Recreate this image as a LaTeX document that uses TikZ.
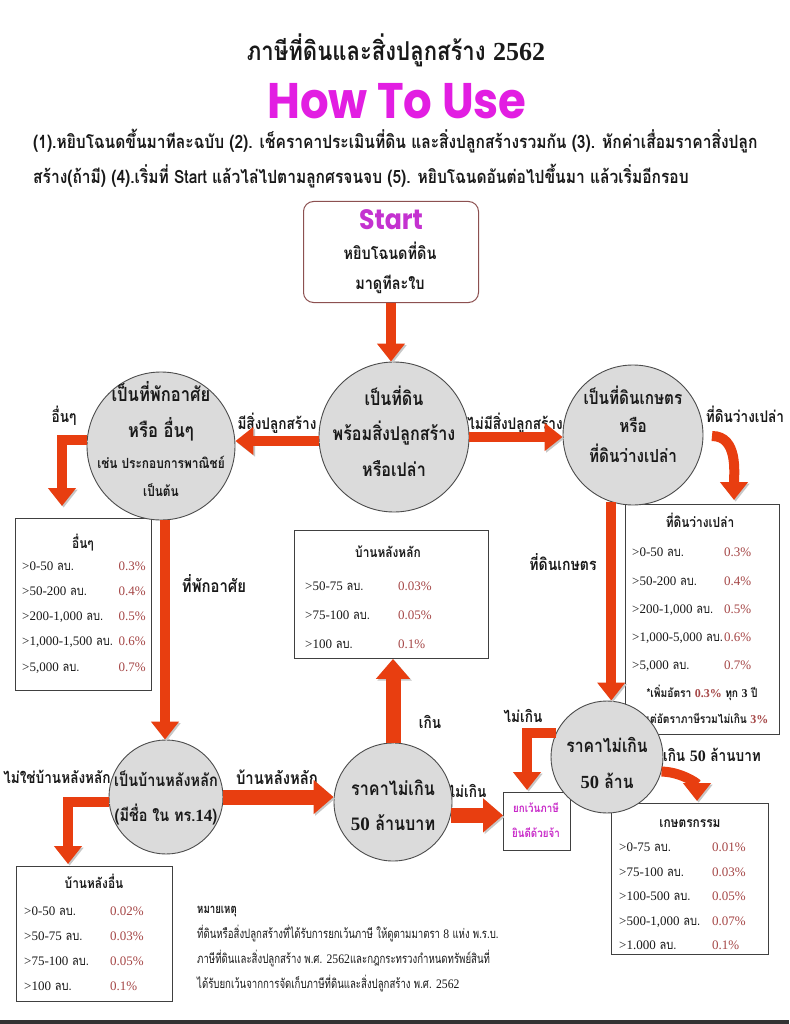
\documentclass[tikz,border=0pt]{standalone}
\usepackage{fontspec}
\usetikzlibrary{arrows.meta}
\setmainfont{Loma}[Script=Thai, FakeStretch=0.85]
\newfontfamily\cond{Loma}[Script=Thai, FakeStretch=0.74]
\newfontfamily\ser{Liberation Serif}
\newfontfamily\sercond{Liberation Serif}[FakeStretch=0.9]
\newfontfamily\howfont{Poppins}[FakeStretch=0.9]
\definecolor{arr}{RGB}{232,62,16}
\definecolor{pct}{RGB}{165,70,70}
\definecolor{howmag}{RGB}{226,30,226}
\definecolor{startmag}{RGB}{196,50,208}
\definecolor{exmag}{RGB}{200,40,200}
\definecolor{sbox}{RGB}{140,80,80}
\definecolor{ink}{RGB}{25,25,25}
\newcommand\pc[1]{{\ser\color{pct}#1}}
\newcommand\trowl[4]{\node[rowl] (#1) at (#2,#3) {#4};}
\newcommand\trowp[4]{\node[rowp] (#1) at (#2,#3) {\pc{#4}};}
\newcommand\trowr[4]{\node[rowr] (#1) at (#2,#3) {\pc{#4}};}
\newcommand\fs[1]{\fontsize{#1}{#1}\selectfont}
\tikzset{
  circ/.style={circle, draw=black!70, fill=black!14, line width=0.9pt, inner sep=0pt},
  tbox/.style={draw=black!75, line width=0.9pt, fill=white, inner sep=0pt, anchor=north west},
  bigarrow/.style={draw=arr, line width=10pt, -{Triangle[width=27pt,length=18pt]},
     preaction={draw=black!22, transform canvas={shift={(1.6pt,-1.6pt)}}}},
  fatarrow/.style={draw=arr, line width=15pt, -{Triangle[width=33pt,length=20pt]},
     preaction={draw=black!22, transform canvas={shift={(1.6pt,-1.6pt)}}}},
  lbl/.style={font=\bfseries\fs{16}, text=ink, inner sep=1pt},
  ctext/.style={font=\bfseries\fs{17}, text=ink, inner sep=0pt},
  ttitle/.style={font=\bfseries\fs{14}, text=ink, inner sep=0pt, anchor=base},
  rowl/.style={font=\fs{13}, text=ink, inner sep=0pt, anchor=base west},
  rowp/.style={font=\fs{13}, inner sep=0pt, anchor=base west},
  rowr/.style={font=\fs{13}, inner sep=0pt, anchor=base east},
  note/.style={font=\cond\fs{13}, text=ink, inner sep=0pt, anchor=base west},
  instr/.style={font=\bfseries\fs{18.3}, text=ink, inner sep=0pt, anchor=base west},
}
\begin{document}
\begin{tikzpicture}[x=1pt,y=-1pt]
\fill[white] (0,0) rectangle (789,1024);
\useasboundingbox (0,0) rectangle (789,1024);
\fill[black!80] (0,1020) rectangle (789,1024);

% headings
\node[font=\bfseries\fs{26}, text=ink] (title) at (396,50) {ภาษีที่ดินและสิ่งปลูกสร้าง {\ser 2562}};
\node[font=\howfont\bfseries\fs{50}, text=howmag] (how) at (397,101) {How To Use};
\node[instr] (ins1) at (33,149) {(1).หยิบโฉนดขึ้นมาทีละฉบับ (2). เช็คราคาประเมินที่ดิน และสิ่งปลูกสร้างรวมกัน (3). หักค่าเสื่อมราคาสิ่งปลูก};
\node[instr] (ins2) at (33,184) {สร้าง(ถ้ามี) (4).เริ่มที่ Start แล้วไล่ไปตามลูกศรจนจบ (5). หยิบโฉนดอันต่อไปขึ้นมา แล้วเริ่มอีกรอบ};

% start box
\node[draw=sbox, line width=1pt, rounded corners=10pt, fill=white, minimum width=175, minimum height=101, anchor=north west] (start) at (303,201) {};
\node[font=\howfont\bfseries\fs{28}, text=startmag] (startt) at (391,220) {Start};
\node[ctext] (start2) at (390,251) {หยิบโฉนดที่ดิน};
\node[ctext] (start3) at (390,284) {มาดูทีละใบ};

% tables
\node[tbox, minimum width=136, minimum height=172] (tA) at (15,518) {};
\node[ttitle] (tAt) at (83,548) {อื่นๆ};
\trowl{tAl1}{22}{570}{{\ser >0-50} ลบ.}
\trowl{tAl2}{22}{595}{{\ser >50-200} ลบ.}
\trowl{tAl3}{22}{620}{{\ser >200-1,000} ลบ.}
\trowl{tAl4}{22}{645}{{\ser >1,000-1,500} ลบ.}
\trowl{tAl5}{22}{671}{{\ser >5,000} ลบ.}
\trowr{tAp1}{146}{570}{0.3\%}
\trowr{tAp2}{146}{595}{0.4\%}
\trowr{tAp3}{146}{620}{0.5\%}
\trowr{tAp4}{146}{645}{0.6\%}
\trowr{tAp5}{146}{671}{0.7\%}

\node[tbox, minimum width=194, minimum height=128] (tB) at (294,530) {};
\node[ttitle] (tBt) at (388,557) {บ้านหลังหลัก};
\trowl{tBl1}{305}{590}{{\ser >50-75} ลบ.}
\trowl{tBl2}{305}{619}{{\ser >75-100} ลบ.}
\trowl{tBl3}{305}{648}{{\ser >100} ลบ.}
\trowp{tBp1}{398}{590}{0.03\%}
\trowp{tBp2}{398}{619}{0.05\%}
\trowp{tBp3}{398}{648}{0.1\%}

\node[tbox, minimum width=154, minimum height=230] (tC) at (625,504) {};
\node[ttitle] (tCt) at (700,527) {ที่ดินว่างเปล่า};
\trowl{tCl1}{632}{556}{{\ser >0-50} ลบ.}
\trowl{tCl2}{632}{585}{{\ser >50-200} ลบ.}
\trowl{tCl3}{632}{613}{{\ser >200-1,000} ลบ.}
\trowl{tCl4}{632}{641}{{\ser >1,000-5,000} ลบ.}
\trowl{tCl5}{632}{669}{{\ser >5,000} ลบ.}
\trowp{tCp1}{724}{556}{0.3\%}
\trowp{tCp2}{724}{585}{0.4\%}
\trowp{tCp3}{724}{613}{0.5\%}
\trowp{tCp4}{724}{641}{0.6\%}
\trowp{tCp5}{724}{669}{0.7\%}
\node[font=\bfseries\fs{12}, text=ink, inner sep=0pt, anchor=base] (tCn1) at (702,697) {*เพิ่มอัตรา \pc{0.3\%} ทุก {\ser 3} ปี};
\node[font=\bfseries\fs{12}, text=ink, inner sep=0pt, anchor=base] (tCn2) at (706,723) {แต่อัตราภาษีรวมไม่เกิน \pc{3\%}};

\node[tbox, minimum width=157, minimum height=151] (tD) at (611,803) {};
\node[ttitle] (tDt) at (690,827) {เกษตรกรรม};
\trowl{tDl1}{619}{851}{{\ser >0-75} ลบ.}
\trowl{tDl2}{619}{876}{{\ser >75-100} ลบ.}
\trowl{tDl3}{619}{900}{{\ser >100-500} ลบ.}
\trowl{tDl4}{619}{925}{{\ser >500-1,000} ลบ.}
\trowl{tDl5}{619}{949}{{\ser >1.000} ลบ.}
\trowp{tDp1}{712}{851}{0.01\%}
\trowp{tDp2}{712}{876}{0.03\%}
\trowp{tDp3}{712}{900}{0.05\%}
\trowp{tDp4}{712}{925}{0.07\%}
\trowp{tDp5}{712}{949}{0.1\%}

\node[tbox, minimum width=156, minimum height=135] (tE) at (16,866) {};
\node[ttitle] (tEt) at (94,888) {บ้านหลังอื่น};
\trowl{tEl1}{24}{915}{{\ser >0-50} ลบ.}
\trowl{tEl2}{24}{940}{{\ser >50-75} ลบ.}
\trowl{tEl3}{24}{965}{{\ser >75-100} ลบ.}
\trowl{tEl4}{24}{990}{{\ser >100} ลบ.}
\trowp{tEp1}{110}{915}{0.02\%}
\trowp{tEp2}{110}{940}{0.03\%}
\trowp{tEp3}{110}{965}{0.05\%}
\trowp{tEp4}{110}{990}{0.1\%}

% exempt box
\node[tbox, minimum width=67, minimum height=58] (ex) at (503,792) {};
\node[font=\bfseries\fs{11.5}, text=exmag, inner sep=0pt] (ex1) at (536,808) {ยกเว้นภาษี};
\node[font=\bfseries\fs{11.5}, text=exmag, inner sep=0pt] (ex2) at (536,833) {ยินดีด้วยจ้า};

% note
\node[note, font=\cond\bfseries\fs{13}] (n0) at (197,913) {หมายเหตุ};
\node[note] (n1) at (197,938) {ที่ดินหรือสิ่งปลูกสร้างที่ได้รับการยกเว้นภาษี ให้ดูตามมาตรา {\sercond 8} แห่ง พ.ร.บ.};
\node[note] (n2) at (197,963) {ภาษีที่ดินและสิ่งปลูกสร้าง พ.ศ. {\sercond 2562}และกฎกระทรวงกำหนดทรัพย์สินที่};
\node[note] (n3) at (197,988) {ได้รับยกเว้นจากการจัดเก็บภาษีที่ดินและสิ่งปลูกสร้าง พ.ศ. {\sercond 2562}};

% edge labels
\node[lbl] (l1) at (277,423) {มีสิ่งปลูกสร้าง};
\node[lbl] (l2) at (515,423) {ไม่มีสิ่งปลูกสร้าง};
\node[lbl] (l3) at (64,416) {อื่นๆ};
\node[lbl, font=\bfseries\fs{17.5}] (l4) at (214,583) {ที่พักอาศัย};
\node[lbl] (l5) at (745,414) {ที่ดินว่างเปล่า};
\node[lbl, font=\bfseries\fs{16.5}] (l6) at (563,562) {ที่ดินเกษตร};
\node[lbl] (l7) at (523,716) {ไม่เกิน};
\node[lbl] (l8) at (712,755) {เกิน {\ser 50} ล้านบาท};
\node[lbl] (l9) at (57,777) {ไม่ใช่บ้านหลังหลัก};
\node[lbl, font=\bfseries\fs{17.5}] (l10) at (277,777) {บ้านหลังหลัก};
\node[lbl] (l11) at (430,722) {เกิน};
\node[lbl] (l12) at (467,791) {ไม่เกิน};

% circles (shapes)
\node[circ, minimum size=150] (c0) at (394,437) {};
\node[circ, minimum size=148] (c1) at (161,446) {};
\node[circ, minimum size=140] (c2) at (633,435) {};
\node[circ, minimum size=114] (c3) at (166,797) {};
\node[circ, minimum size=118] (c4) at (393,802) {};
\node[circ, minimum size=112] (c5) at (607,757) {};

% free arrow ends
\coordinate (pA) at (62,506);
\coordinate (pC0) at (712,436);
\coordinate (pC) at (734,500);
\coordinate (pD) at (697,801);
\coordinate (pE) at (527,790);
\coordinate (pF) at (68,864);

% arrows
\draw[bigarrow] (start.south) -- (start.south |- c0.north);
\draw[bigarrow] (c0.west |- 0,441) -- (c1.east |- 0,441);
\draw[bigarrow] (c0.east) -- (c2.west |- c0.east);
\draw[bigarrow] (c1.south -| 165,0) -- (c3.north -| 165,0);
\draw[bigarrow] (c2.252) -- (c2.252 |- c5.north);
\draw[bigarrow] (c1.175) -| (pA);
\draw[bigarrow] (pC0) to[out=0,in=90] (pC);
\draw[bigarrow] (c5.155) -| (pE);
\draw[bigarrow] (c5.-15) to[out=0,in=90] (pD);
\draw[bigarrow] (c3.185) -| (pF);
\draw[fatarrow] (c3.east) -- (c4.west |- c3.east);
\draw[fatarrow] (c4.north) -- (c4.north |- tB.south);
\draw[fatarrow] (c4.-13) -- (ex.west |- c4.-13);

% circle texts
\node[ctext, font=\bfseries\fs{19}] (c0a) at (394,396) {เป็นที่ดิน};
\node[ctext, font=\bfseries\fs{19}] (c0b) at (394,433) {พร้อมสิ่งปลูกสร้าง};
\node[ctext, font=\bfseries\fs{19}] (c0c) at (394,469) {หรือเปล่า};
\node[ctext, font=\bfseries\fs{19.5}] (c1a) at (161,392) {เป็นที่พักอาศัย};
\node[ctext, font=\bfseries\fs{19.5}] (c1b) at (161,429) {หรือ อื่นๆ};
\node[ctext, font=\bfseries\fs{14}] (c1c) at (161,462) {เช่น ประกอบการพาณิชย์};
\node[ctext, font=\bfseries\fs{14}] (c1d) at (161,490) {เป็นต้น};
\node[ctext, font=\bfseries\fs{18}] (c2a) at (633,395) {เป็นที่ดินเกษตร};
\node[ctext, font=\bfseries\fs{18}] (c2b) at (633,425) {หรือ};
\node[ctext, font=\bfseries\fs{18}] (c2c) at (633,453) {ที่ดินว่างเปล่า};
\node[ctext] (c3a) at (166,779) {เป็นบ้านหลังหลัก};
\node[ctext] (c3b) at (166,815) {(มีชื่อ ใน ทร.{\ser 14})};
\node[ctext, font=\bfseries\fs{19}] (c4a) at (393,788) {ราคาไม่เกิน};
\node[ctext, font=\bfseries\fs{19}] (c4b) at (393,823) {{\ser 50} ล้านบาท};
\node[ctext, font=\bfseries\fs{18.5}] (c5a) at (607,745) {ราคาไม่เกิน};
\node[ctext, font=\bfseries\fs{18.5}] (c5b) at (607,781) {{\ser 50} ล้าน};
\end{tikzpicture}
\end{document}
